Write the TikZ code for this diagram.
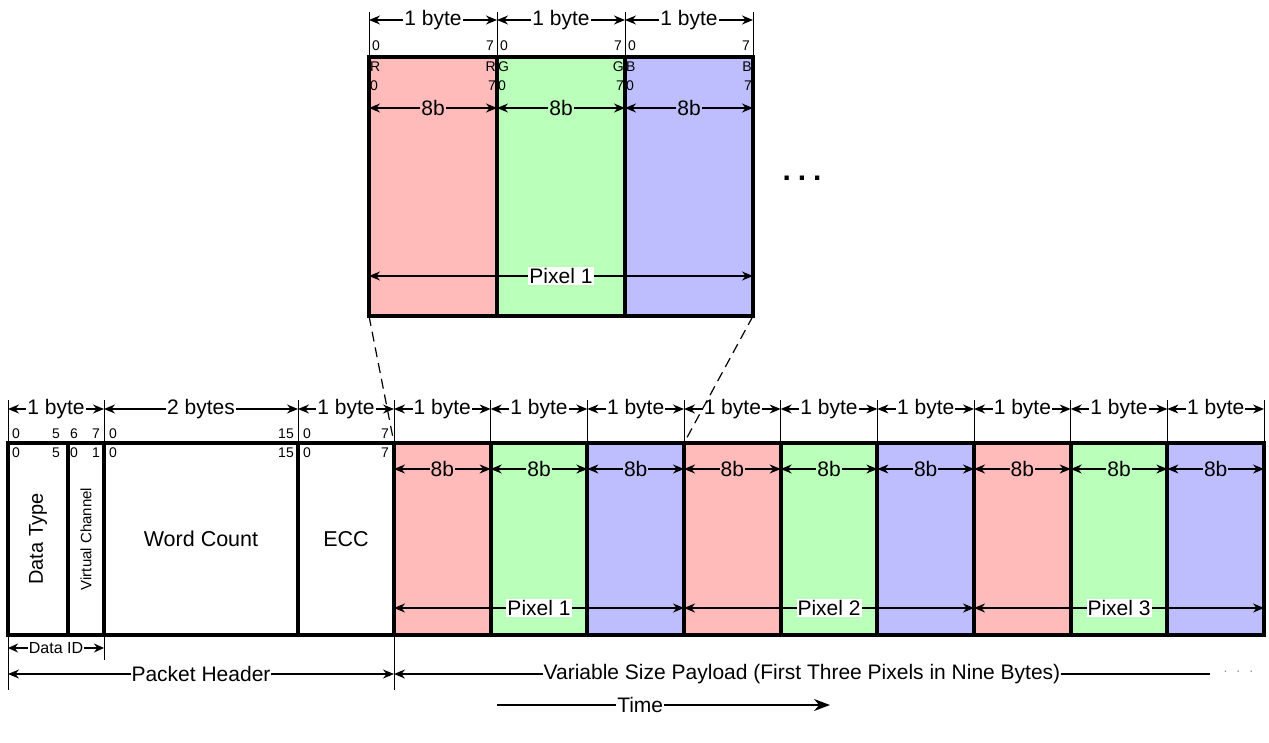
\documentclass[tikz,border=0pt]{standalone}
\usepackage{fontspec}
\setmainfont{Liberation Sans}
\usetikzlibrary{arrows.meta}
\definecolor{cr}{RGB}{255,186,186}
\definecolor{cg}{RGB}{186,255,186}
\definecolor{cb}{RGB}{190,190,255}
\begin{document}
\begin{tikzpicture}[x=1pt,y=-1pt,
  cell/.style={draw, line width=4pt, inner sep=0pt, outer sep=0pt, anchor=north west},
  dim/.style={{Stealth[length=11pt,width=9pt]}-{Stealth[length=11pt,width=9pt]}, line width=1.3pt},
  smalldim/.style={{Stealth[length=10pt,width=9pt]}-{Stealth[length=10pt,width=9pt]}, line width=1.3pt},
  lbl/.style={font=\fontsize{21}{21}\selectfont, inner sep=1pt, fill=white},
  slbl/.style={font=\fontsize{16}{16}\selectfont, inner sep=1pt, fill=white},
  bit/.style={font=\fontsize{14}{14}\selectfont, inner sep=0pt},
  tick/.style={line width=1pt}]
\useasboundingbox (0,0) rectangle (1269,742);

% ---------- top enlarged pixel ----------
\node[cell, fill=cr, minimum width=128pt, minimum height=259pt] (tR) at (369,57) {};
\node[cell, fill=cg, minimum width=128pt, minimum height=259pt] (tG) at (497,57) {};
\node[cell, fill=cb, minimum width=128pt, minimum height=259pt] (tB) at (625,57) {};
\foreach \n/\c/\l in {tR/cr/R,tG/cg/G,tB/cb/B} {
  \draw[tick] (\n.north west) -- ++(0,-45);
  \draw[dim] (\n.west |- 0,20) -- node[lbl]{1 byte} (\n.east |- 0,20);
  \node[bit, anchor=west] at ([xshift=3pt]\n.west |- 0,46) {0};
  \node[bit, anchor=east] at ([xshift=-3pt]\n.east |- 0,46) {7};
  \node[bit, anchor=west] at ([xshift=1pt]\n.west |- 0,67) {\l};
  \node[bit, anchor=east] at ([xshift=-1pt]\n.east |- 0,67) {\l};
  \node[bit, anchor=west] at ([xshift=1pt]\n.west |- 0,86) {0};
  \node[bit, anchor=east] at ([xshift=-1pt]\n.east |- 0,86) {7};
  \draw[dim] (\n.west |- 0,108) -- node[lbl, fill=\c]{8b} (\n.east |- 0,108);
}
\draw[tick] (tB.north east) -- ++(0,-45);
\draw[dim] (tR.west |- 0,276) -- node[lbl]{Pixel 1} (tB.east |- 0,276);
\node[font=\bfseries\fontsize{30}{30}\selectfont] (dots) at (802,178) {.\hspace{7pt}.\hspace{7pt}.};

% ---------- packet header ----------
\node[cell, minimum width=60pt, minimum height=192pt] (DT) at (8,443)
  {\rotatebox{90}{\fontsize{20}{20}\selectfont Data Type}};
\node[cell, minimum width=36pt, minimum height=192pt] (VC) at (68,443)
  {\rotatebox{90}{\fontsize{15}{15}\selectfont Virtual Channel}};
\node[cell, minimum width=194pt, minimum height=192pt] (WC) at (104,443)
  {\fontsize{21.5}{21.5}\selectfont Word Count};
\node[cell, minimum width=96pt, minimum height=192pt] (ECC) at (298,443)
  {\fontsize{21.5}{21.5}\selectfont ECC};

% ---------- payload ----------
\foreach \i/\c in {0/cr,1/cg,2/cb,3/cr,4/cg,5/cb,6/cr,7/cg,8/cb} {
  \node[cell, fill=\c, minimum width=96.67pt, minimum height=192pt] (p\i) at ({394+96.67*\i},443) {};
}
\foreach \i/\c in {0/cr,1/cg,2/cb,3/cr,4/cg,5/cb,6/cr,7/cg,8/cb} {
  \draw[tick] (p\i.north west) -- ++(0,-43);
  \draw[dim] (p\i.west |- 0,409) -- node[lbl]{1 byte} (p\i.east |- 0,409);
  \draw[dim] (p\i.west |- 0,469) -- node[lbl, fill=\c]{8b} (p\i.east |- 0,469);
}
\draw[tick] (p8.north east) -- ++(0,-43);

% header byte dims
\foreach \n in {DT,WC,ECC} {\draw[tick] (\n.north west) -- ++(0,-43);}
\draw[dim] (DT.west |- 0,409) -- node[lbl]{1 byte} (VC.east |- 0,409);
\draw[dim] (WC.west |- 0,409) -- node[lbl]{2 bytes} (WC.east |- 0,409);
\draw[dim] (ECC.west |- 0,409) -- node[lbl]{1 byte} (ECC.east |- 0,409);

% header bit numbers
\node[bit, anchor=west] at (12,434) {0};
\node[bit] at (56,434) {5};
\node[bit] at (74,434) {6};
\node[bit] at (96,434) {7};
\node[bit, anchor=west] at (109,434) {0};
\node[bit, anchor=east] at (294,434) {15};
\node[bit, anchor=west] at (303,434) {0};
\node[bit, anchor=east] at (389,434) {7};
\node[bit, anchor=west] at (12,453) {0};
\node[bit] at (56,453) {5};
\node[bit] at (74,453) {0};
\node[bit] at (96,453) {1};
\node[bit, anchor=west] at (109,453) {0};
\node[bit, anchor=east] at (294,453) {15};
\node[bit, anchor=west] at (303,453) {0};
\node[bit, anchor=east] at (389,453) {7};

% pixel spans
\draw[dim] (p0.west |- 0,608) -- node[lbl]{Pixel 1} (p2.east |- 0,608);
\draw[dim] (p3.west |- 0,608) -- node[lbl]{Pixel 2} (p5.east |- 0,608);
\draw[dim] (p6.west |- 0,608) -- node[lbl]{Pixel 3} (p8.east |- 0,608);

% zoom lines
\draw[dashed, dash pattern=on 10pt off 6pt, line width=1.2pt] (tR.south west) -- (p0.north west);
\draw[dashed, dash pattern=on 10pt off 6pt, line width=1.2pt] (tB.south east) -- (p3.north west);

% bottom dims
\draw[tick] (DT.south west) -- ++(0,55);
\draw[tick] (VC.south east) -- ++(0,25);
\draw[tick] (p0.south west) -- ++(0,55);
\draw[smalldim] (DT.west |- 0,648) -- node[slbl]{Data ID} (VC.east |- 0,648);
\draw[dim] (DT.west |- 0,674) -- node[lbl]{Packet Header} (ECC.east |- 0,674);
\coordinate (pend) at (1210,674);
\draw[{Stealth[length=11pt,width=9pt]}-, line width=1.3pt] (p0.west |- 0,674) -- node[lbl]{Variable Size Payload (First Three Pixels in Nine Bytes)} (pend);
\node[font=\fontsize{14}{14}\selectfont, text=black!45, anchor=west] (pdots) at (1220,672) {.\hspace{9pt}.\hspace{9pt}.};

% time
\coordinate (t0) at (497,705);
\coordinate (t1) at (830,705);
\draw[-{Stealth[length=16pt,width=12pt]}, line width=1.3pt] (t0) -- node[lbl, pos=0.43]{Time} (t1);
\end{tikzpicture}
\end{document}
